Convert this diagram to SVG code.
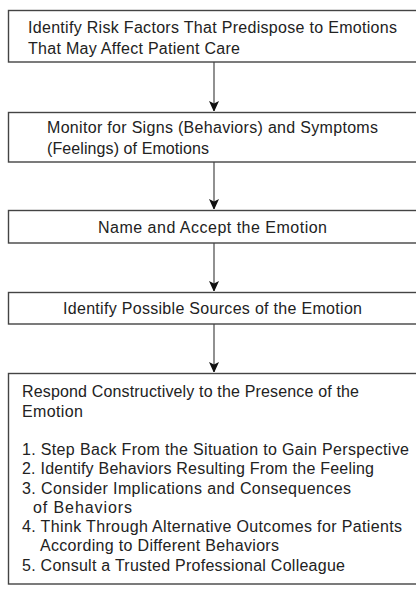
<svg xmlns="http://www.w3.org/2000/svg" width="416" height="596" viewBox="0 0 416 596">
<style>
.box{fill:#fff;stroke:#444;stroke-width:1.4}
.t{font-family:"Liberation Sans",Arial,sans-serif;font-size:16px;fill:#222}
.c{stroke:#555;stroke-width:1.3;fill:none}
</style>
<defs>
<marker id="ah" markerWidth="10" markerHeight="11" refX="10" refY="5.5" orient="auto" markerUnits="userSpaceOnUse">
<path d="M0,0.5 L11,5.5 L0,10.5 L2.5,5.5 Z" fill="#111"/>
</marker>
</defs>
<rect width="416" height="596" fill="#fff"/>
<g id="connectors">
<line class="c" x1="214" y1="62" x2="214" y2="111" marker-end="url(#ah)"/>
<line class="c" x1="214" y1="162" x2="214" y2="209" marker-end="url(#ah)"/>
<line class="c" x1="214" y1="243" x2="214" y2="291" marker-end="url(#ah)"/>
<line class="c" x1="214" y1="324" x2="214" y2="372" marker-end="url(#ah)"/>
</g>
<g id="n1">
<rect class="box" x="8.5" y="10.5" width="420" height="51.5"/>
<text class="t" x="28" y="33" textLength="369" lengthAdjust="spacing">Identify Risk Factors That Predispose to Emotions</text>
<text class="t" x="28" y="54" textLength="212" lengthAdjust="spacing">That May Affect Patient Care</text>
</g>
<g id="n2">
<rect class="box" x="8.5" y="112.5" width="420" height="49.5"/>
<text class="t" x="47" y="133" textLength="331" lengthAdjust="spacing">Monitor for Signs (Behaviors) and Symptoms</text>
<text class="t" x="47" y="154" textLength="162" lengthAdjust="spacing">(Feelings) of Emotions</text>
</g>
<g id="n3">
<rect class="box" x="8.5" y="210.5" width="420" height="32.5"/>
<text class="t" x="98" y="233" textLength="229" lengthAdjust="spacing">Name and Accept the Emotion</text>
</g>
<g id="n4">
<rect class="box" x="8.5" y="292.5" width="420" height="31.5"/>
<text class="t" x="63" y="314" textLength="299" lengthAdjust="spacing">Identify Possible Sources of the Emotion</text>
</g>
<g id="n5">
<rect class="box" x="8.5" y="373.5" width="420" height="210.5"/>
<text class="t" x="22" y="397" textLength="337" lengthAdjust="spacing">Respond Constructively to the Presence of the</text>
<text class="t" x="22" y="417" textLength="61" lengthAdjust="spacing">Emotion</text>
<text class="t" x="22" y="455" textLength="387" lengthAdjust="spacing">1. Step Back From the Situation to Gain Perspective</text>
<text class="t" x="22" y="474" textLength="352" lengthAdjust="spacing">2. Identify Behaviors Resulting From the Feeling</text>
<text class="t" x="22" y="494" textLength="329" lengthAdjust="spacing">3. Consider Implications and Consequences</text>
<text class="t" x="33" y="513" textLength="99" lengthAdjust="spacing">of Behaviors</text>
<text class="t" x="22" y="532" textLength="380" lengthAdjust="spacing">4. Think Through Alternative Outcomes for Patients</text>
<text class="t" x="40" y="551" textLength="239" lengthAdjust="spacing">According to Different Behaviors</text>
<text class="t" x="22" y="571" textLength="323" lengthAdjust="spacing">5. Consult a Trusted Professional Colleague</text>
</g>
</svg>
